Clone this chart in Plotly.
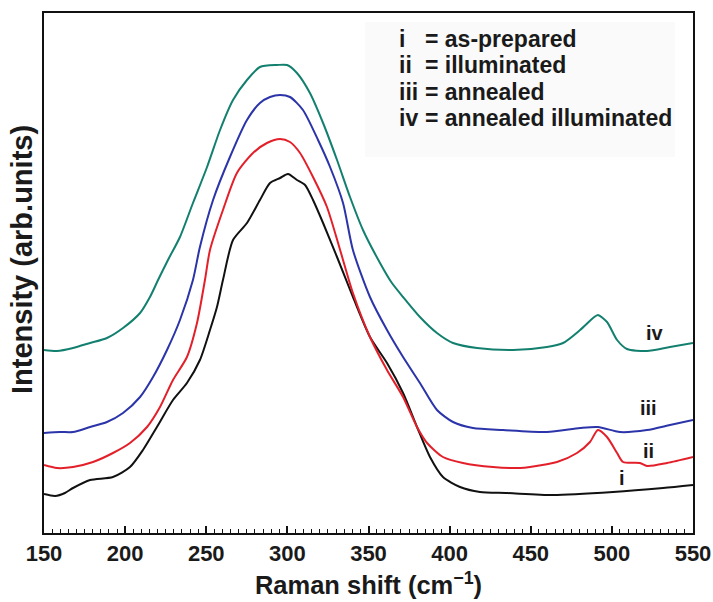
import plotly.graph_objects as go

# ---------------- data ----------------
x_i = [150, 156.8, 162.9, 167.9, 178.4, 192.5, 203.0, 211.0, 219.6, 229.5, 238.1, 246.1,
       252.3, 256.6, 260.3, 266.5, 275.1, 283.1, 289.3, 295.5, 300.4, 305.9, 310.9,
       315.8, 322.0, 330.6, 340.4, 350.9, 361.4, 371.3, 379.9, 387.9, 395.9, 406.4,
       418.7, 435.4, 463.7, 500.7, 531.5, 550]
y_i = [39, 37, 40, 45, 53, 56, 66, 83, 106, 133, 150, 173,
       203, 226, 253, 293, 310, 333, 350, 355, 359, 353, 348,
       333, 310, 276, 236, 196, 170, 140, 106, 76, 56, 46,
       41, 40, 38, 41, 45, 48]

x_ii = [150, 158, 167.9, 180.2, 192.5, 203.0, 213.5, 221.5, 229.5, 238.1, 244.3, 249.2,
        252.3, 260.3, 268.9, 278.8, 287.4, 295.5, 301.6, 307.8, 315.8, 324.4, 332.5,
        340.4, 350.9, 361.4, 371.3, 379.9, 386.1, 395.9, 408.2, 426.7, 443.4, 449.5,
        466.2, 478.5, 486.5, 491.4, 497.0, 503.2, 506.9, 517.3, 521.7, 534.0, 550]
y_ii = [68, 65, 66, 71, 80, 90, 106, 126, 153, 176, 210, 253,
        283, 323, 360, 380, 390, 394, 391, 380, 356, 326, 283,
        240, 196, 163, 136, 106, 90, 76, 70, 66, 65, 66,
        71, 80, 91, 103, 96, 80, 71, 70, 67, 70, 76]

x_iii = [150, 159.9, 167.9, 178.4, 188.8, 198.7, 209.2, 217.2, 225.8, 233.8, 241.8, 246.1,
         254.2, 264.6, 275.1, 283.1, 289.3, 295.5, 301.6, 309.6, 318.9, 326.3, 334.3,
         340.4, 350.9, 361.4, 371.3, 381.7, 392.2, 402.1, 414.4, 432.9, 460.0, 480.4,
         491.4, 505.0, 521.6, 535.8, 550]
y_iii = [100, 101, 101, 106, 111, 120, 136, 156, 183, 213, 253, 286,
         333, 376, 413, 430, 436, 438, 436, 423, 393, 366, 330,
         283, 236, 203, 176, 150, 123, 111, 105, 103, 101, 105,
         106, 101, 103, 108, 113]

x_iv = [150, 158, 167.9, 178.4, 188.8, 198.7, 209.2, 215.3, 220.3, 226.4, 233.8, 241.8,
        250.5, 258.5, 266.5, 275.1, 283.1, 293.6, 299.8, 305.9, 313.9, 322.0, 330.6,
        338.6, 346.6, 357.1, 364.0, 371.3, 381.7, 392.2, 402.1, 416.9, 439.1, 460.0,
        469.9, 480.4, 488.4, 491.4, 497.0, 503.2, 509.3, 521.6, 535.8, 550]
y_iv = [183, 182, 185, 190, 195, 205, 220, 236, 253, 273, 296, 330,
        366, 403, 433, 453, 466, 468, 468, 460, 440, 410, 373,
        336, 303, 270, 251, 236, 216, 200, 190, 185, 183, 186,
        190, 203, 215, 218, 211, 193, 184, 182, 186, 190]

series_names = ["i", "ii", "iii", "iv"]
legend_lines = ["= as-prepared", "= illuminated", "= annealed", "= annealed illuminated"]
x_tick_vals = [150, 200, 250, 300, 350, 400, 450, 500, 550]

# ---------------- styling ----------------
colors = ["#111111", "#e3202a", "#2b34a8", "#13806f"]
FONT = "Liberation Sans, Arial, Helvetica, sans-serif"

# pixel geometry of the plot box (for placing text / box)
W, H = 713, 602
L, R, T, B = 44, 693, 13, 533
XMIN, XMAX, YMIN, YMAX = 150, 550, 0, 520


def px2x(px):
    return XMIN + (px - L) * (XMAX - XMIN) / (R - L)


def py2y(py):
    return YMIN + (B - py) * (YMAX - YMIN) / (B - T)


fig = go.Figure()
for xs, ys, c, n in zip([x_i, x_ii, x_iii, x_iv], [y_i, y_ii, y_iii, y_iv], colors, series_names):
    fig.add_trace(go.Scatter(x=xs, y=ys, mode="lines", name=n,
                             line=dict(color=c, width=2, shape="spline", smoothing=0.7),
                             showlegend=False))

# faint legend panel
fig.add_shape(type="rect", x0=px2x(365), x1=px2x(675), y0=py2y(157), y1=py2y(22),
              fillcolor="#fafafa", line=dict(width=0), layer="below")

ann = []
eq_px = [423, 423, 423, 423]
line_py = [39, 65, 92, 118]
LEG_SIZE = 23
for n, txt, ex, ly in zip(series_names, legend_lines, eq_px, line_py):
    ann.append(dict(x=px2x(397), y=py2y(ly), text=n, xanchor="left", yanchor="middle",
                    showarrow=False, font=dict(size=LEG_SIZE, color="#1a1a1a", family=FONT, weight="bold")))
    ann.append(dict(x=px2x(ex), y=py2y(ly), text=txt, xanchor="left", yanchor="middle",
                    showarrow=False, font=dict(size=LEG_SIZE, color="#1a1a1a", family=FONT, weight="bold")))

# curve labels
for n, (lx, ly) in zip(series_names, [(622, 478), (648, 451), (648, 408), (655, 333)]):
    ann.append(dict(x=px2x(lx), y=py2y(ly), text=n, xanchor="center", yanchor="middle",
                    showarrow=False, font=dict(size=20, color="#1a1a1a", family=FONT, weight="bold")))

# y-axis title (rotated), placed in plot-area paper fractions
ann.append(dict(x=(22 - L) / (R - L), y=(B - 260) / (B - T), xref="paper", yref="paper",
                text="Intensity (arb.units)", textangle=-90, showarrow=False,
                xanchor="center", yanchor="middle",
                font=dict(size=29, color="#1a1a1a", family=FONT, weight="bold")))

fig.update_layout(
    width=W, height=H,
    margin=dict(l=L, r=W - R, t=T, b=H - B, autoexpand=False),
    paper_bgcolor="white", plot_bgcolor="white",
    annotations=ann,
    font=dict(family=FONT, color="#1a1a1a"),
)

fig.update_xaxes(
    range=[XMIN, XMAX], tickvals=x_tick_vals, ticks="inside", ticklen=7, tickwidth=1.5,
    tickcolor="#111111", showgrid=False, zeroline=False, automargin=False,
    showline=True, linecolor="#111111", linewidth=2, mirror=True,
    tickfont=dict(size=22, family=FONT, weight="bold", color="#1a1a1a"),
    minor=dict(dtick=5, ticks="inside", ticklen=4, tickwidth=1, tickcolor="#111111", showgrid=False),
    title=dict(text="Raman shift (cm<sup>\u22121</sup>)", standoff=11,
               font=dict(size=25.5, family=FONT, weight="bold", color="#1a1a1a")),
)
fig.update_yaxes(
    range=[YMIN, YMAX], showticklabels=False, ticks="", showgrid=False, zeroline=False,
    automargin=False,
    showline=True, linecolor="#111111", linewidth=2, mirror=True,
)

fig.write_html("out.html")
